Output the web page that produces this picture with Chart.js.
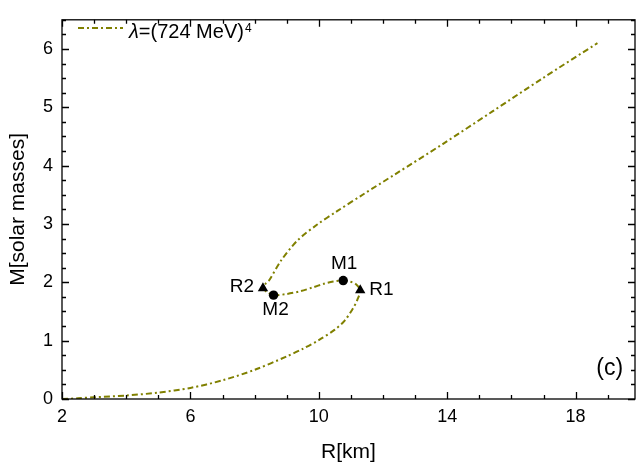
<!DOCTYPE html>
<html>
<head>
<meta charset="utf-8">
<script src="https://cdn.jsdelivr.net/npm/chart.js@4"></script>
<style>
  html, body { margin: 0; padding: 0; background: #fff; }
  canvas { display: block; }
</style>
</head>
<body>
<canvas id="myChart" width="641" height="468"></canvas>
<script>
// mass-radius curve, points in order along the sequence
const radius = [2.0, 2.5, 3.0, 4.0, 5.0, 6.0, 7.0, 8.0, 9.0, 9.5, 10.0, 10.5, 10.8, 11.05, 11.2, 11.29,
  11.15, 10.98, 10.76, 10.45, 10.16, 9.8, 9.44, 9.0, 8.59, 8.4, 8.26,
  8.35, 8.46, 8.82, 9.34, 9.95, 10.57, 11.39, 12.37, 13.86, 15.41, 16.95, 18.68];
const mass = [0.0, 0.012, 0.03, 0.06, 0.11, 0.19, 0.32, 0.5, 0.73, 0.86, 1.01, 1.19, 1.34, 1.54, 1.7, 1.865,
  1.97, 2.01, 2.03, 2.015, 1.975, 1.91, 1.85, 1.80, 1.78, 1.83, 1.90,
  1.98, 2.04, 2.37, 2.72, 2.99, 3.22, 3.51, 3.85, 4.37, 4.93, 5.49, 6.1];

// turning points: radius extrema (triangles) and mass extrema (circles)
const rNames = ['R1', 'R2'];
const rRadius = [11.29, 8.26];
const rMass = [1.865, 1.90];
const mNames = ['M1', 'M2'];
const mRadius = [10.76, 8.59];
const mMass = [2.03, 1.78];

const xTicks = [2, 6, 10, 14, 18];
const yTicks = [0, 1, 2, 3, 4, 5, 6];

const seriesLabel = '=(724 MeV)';
const panelTag = '(c)';

const lineColor = '#808000';
const dash = [6, 3, 2, 3];
const fontFamily = '"Liberation Sans", Arial, Helvetica, sans-serif';

const toPoints = (xs, ys) => xs.map((x, i) => ({ x: x, y: ys[i] }));

// frame, inward ticks on all four sides, legend and text marks
const decorPlugin = {
  id: 'decor',
  afterDraw(chart) {
    const ctx = chart.ctx;
    const a = chart.chartArea;
    const xs = chart.scales.x;
    const ys = chart.scales.y;
    ctx.save();
    ctx.strokeStyle = '#000';
    ctx.lineWidth = 1.3;
    ctx.strokeRect(a.left, a.top, a.right - a.left, a.bottom - a.top);

    ctx.beginPath();
    for (let v = 2; v <= xs.max; v += 1) {
      const px = Math.round(xs.getPixelForValue(v)) + 0.5;
      const len = (v - 2) % 4 === 0 ? 7 : 4;
      ctx.moveTo(px, a.bottom); ctx.lineTo(px, a.bottom - len);
      ctx.moveTo(px, a.top); ctx.lineTo(px, a.top + len);
    }
    for (let v = 0; v <= ys.max + 1e-9; v += 0.25) {
      const py = Math.round(ys.getPixelForValue(v)) + 0.5;
      const len = Math.abs(v - Math.round(v)) < 1e-9 ? 7 : 4;
      ctx.moveTo(a.left, py); ctx.lineTo(a.left + len, py);
      ctx.moveTo(a.right, py); ctx.lineTo(a.right - len, py);
    }
    ctx.stroke();

    // legend
    ctx.strokeStyle = lineColor;
    ctx.lineWidth = 2;
    ctx.setLineDash(dash);
    ctx.beginPath();
    ctx.moveTo(78, 28);
    ctx.lineTo(123, 28);
    ctx.stroke();
    ctx.setLineDash([]);
    ctx.fillStyle = '#000';
    ctx.textBaseline = 'alphabetic';
    ctx.textAlign = 'left';
    ctx.font = 'italic 20px ' + fontFamily;
    ctx.fillText('λ', 129, 37.5);
    let tx = 129 + ctx.measureText('λ').width;
    ctx.font = '20px ' + fontFamily;
    ctx.fillText(seriesLabel, tx, 37.5);
    tx += ctx.measureText(seriesLabel).width + 1;
    ctx.font = '12px ' + fontFamily;
    ctx.fillText('4', tx, 31.5);

    // point labels
    ctx.font = '19px ' + fontFamily;
    ctx.textBaseline = 'middle';
    const rMeta = chart.getDatasetMeta(1).data;
    const mMeta = chart.getDatasetMeta(2).data;
    ctx.textAlign = 'left';
    ctx.fillText(rNames[0], rMeta[0].x + 9, rMeta[0].y);
    ctx.textAlign = 'right';
    ctx.fillText(rNames[1], rMeta[1].x - 9, rMeta[1].y - 1);
    ctx.textAlign = 'center';
    ctx.fillText(mNames[0], mMeta[0].x + 1, mMeta[0].y - 17);
    ctx.fillText(mNames[1], mMeta[1].x + 2, mMeta[1].y + 15);

    ctx.font = '23px ' + fontFamily;
    ctx.fillText(panelTag, xs.getPixelForValue(19.06), ys.getPixelForValue(0.52));
    ctx.restore();
  }
};

new Chart(document.getElementById('myChart'), {
  type: 'scatter',
  data: {
    datasets: [
      {
        data: toPoints(radius, mass),
        showLine: true,
        borderColor: lineColor,
        borderWidth: 2,
        borderDash: dash,
        tension: 0.3,
        pointRadius: 0,
        order: 2
      },
      {
        data: toPoints(rRadius, rMass),
        pointStyle: 'triangle',
        pointRadius: 6,
        backgroundColor: '#000',
        borderColor: '#000',
        borderWidth: 0,
        order: 0
      },
      {
        data: toPoints(mRadius, mMass),
        pointStyle: 'circle',
        pointRadius: 4.7,
        backgroundColor: '#000',
        borderColor: '#000',
        borderWidth: 0,
        order: 1
      }
    ]
  },
  options: {
    responsive: false,
    animation: false,
    layout: { padding: { top: 10, right: 1, left: 0, bottom: 0 } },
    plugins: { legend: { display: false }, tooltip: { enabled: false } },
    scales: {
      x: {
        type: 'linear',
        min: 2,
        max: 19.85,
        afterBuildTicks: (s) => { s.ticks = xTicks.map(v => ({ value: v })); },
        afterFit: (s) => { s.height = 69; },
        grid: { display: false, drawTicks: false },
        border: { display: false },
        ticks: { color: '#000', padding: 7, maxRotation: 0, font: { family: fontFamily, size: 18 } },
        title: { display: true, text: 'R[km]', color: '#000', padding: { top: 4, bottom: 3 }, font: { family: fontFamily, size: 21 } }
      },
      y: {
        type: 'linear',
        min: 0,
        max: 6.5,
        afterBuildTicks: (s) => { s.ticks = yTicks.map(v => ({ value: v })); },
        afterFit: (s) => { s.width = 62; },
        grid: { display: false, drawTicks: false },
        border: { display: false },
        ticks: { color: '#000', padding: 9, font: { family: fontFamily, size: 18 } },
        title: { display: true, text: 'M[solar masses]', color: '#000', padding: { top: 6, bottom: 4 }, font: { family: fontFamily, size: 21 } }
      }
    }
  },
  plugins: [decorPlugin]
});
</script>
</body>
</html>
